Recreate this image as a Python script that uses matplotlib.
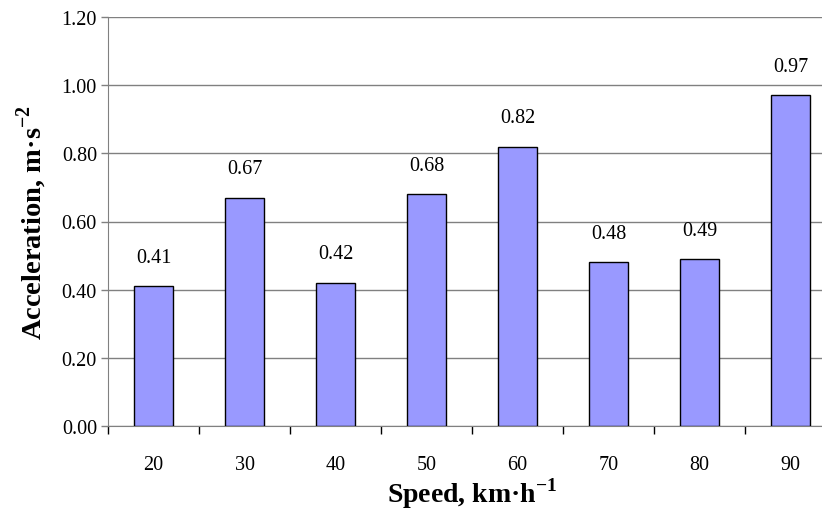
import matplotlib.pyplot as plt
import numpy as np

speeds = ["20", "30", "40", "50", "60", "70", "80", "90"]
accel = [0.41, 0.67, 0.42, 0.68, 0.82, 0.48, 0.49, 0.97]
yticks = [0.0, 0.2, 0.4, 0.6, 0.8, 1.0, 1.2]

plt.rcParams["font.family"] = ["Liberation Serif", "DejaVu Serif"]
plt.rcParams["mathtext.fontset"] = "custom"
plt.rcParams["mathtext.rm"] = "Liberation Serif"
plt.rcParams["mathtext.bf"] = "Liberation Serif:bold"

fig = plt.figure(figsize=(8.22, 5.10), dpi=100)
# plot area runs past the right edge, as in the original export
ax = fig.add_axes([108 / 822, 83 / 510, 728 / 822, 409 / 510])

x = np.arange(len(speeds))
ax.bar(x, accel, width=0.42, color="#9999FF", edgecolor="black", linewidth=1, zorder=3)
for xi, v in zip(x, accel):
    ax.annotate(f"{v:.2f}", (xi, v), xytext=(0, 14), textcoords="offset points",
                ha="center", va="bottom", fontsize=14.5)

ax.set_xlim(-0.5, len(speeds) - 0.5)
ax.set_ylim(0, 1.2)
ax.set_yticks(yticks)
ax.set_yticklabels([f"{t:.2f}" for t in yticks], fontsize=14.5)
ax.yaxis.grid(True, color="#808080", linewidth=1, zorder=0)

ax.set_xticks(x)
ax.set_xticklabels(speeds, fontsize=14.5)
ax.set_xticks(np.arange(len(speeds) + 1) - 0.5, minor=True)
ax.tick_params(axis="x", which="major", length=0, pad=21)
ax.tick_params(axis="x", which="minor", length=6, width=1, color="black", direction="out")
ax.tick_params(axis="y", length=5, width=1, color="#808080", pad=3)

for s in ["top", "right"]:
    ax.spines[s].set_visible(False)
ax.spines["left"].set_color("#808080")
ax.spines["bottom"].set_color("#808080")

ax.set_xlabel(r"Speed, km·h$^{\mathbf{-1}}$", fontsize=20, fontweight="bold", labelpad=1)
ax.set_ylabel(r"Acceleration, m·s$^{\mathbf{-2}}$", fontsize=20.5, fontweight="bold", labelpad=9)

plt.savefig("out.png", dpi=100)
